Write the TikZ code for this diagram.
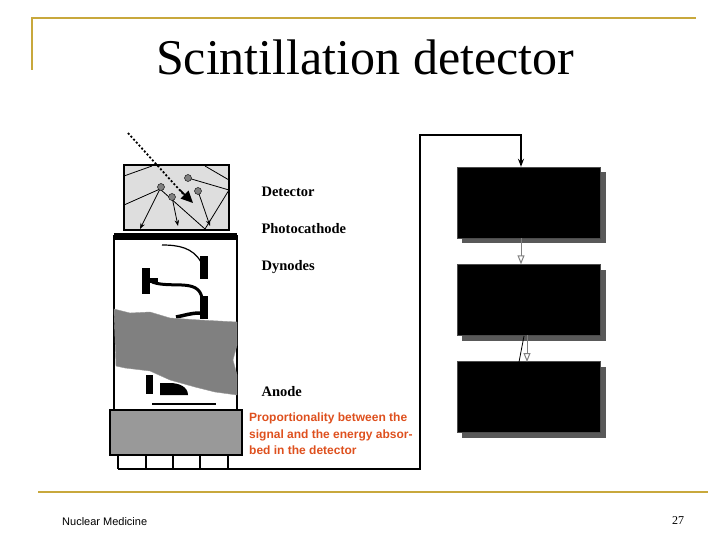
\documentclass[tikz,border=0pt]{standalone}
\usepackage{fontspec}
\newfontfamily\arialf{Liberation Sans}
\newfontfamily\timesf{Liberation Serif}
\usetikzlibrary{arrows.meta}
\definecolor{gold}{RGB}{200,168,60}
\definecolor{redt}{RGB}{222,80,30}
\tikzset{lab/.style={anchor=west,font=\timesf\bfseries\fontsize{14.5}{16}\selectfont},
 blk/.style={fill=black,draw=black!70},
 shd/.style={fill=black!65},
 ga/.style={draw=gray,line width=1pt,-{Triangle[open,length=9pt,width=7pt]}}}
\begin{document}
\begin{tikzpicture}[x=1pt,y=-1pt]
\useasboundingbox (0,0) rectangle (728,546);
\draw[gold,line width=2pt] (32,17) -- (32,70);
\draw[gold,line width=1.5pt] (31,18) -- (696,18);
\draw[gold,line width=1.5pt] (38,492) -- (708,492);
\node (title) at (365,57) {\timesf\fontsize{50}{54}\selectfont Scintillation detector};
\node[anchor=west,inner sep=0] (foot) at (62,522) {\arialf\fontsize{11}{12}\selectfont Nuclear Medicine};
\node (pg) at (678,521) {\timesf\fontsize{12}{13}\selectfont 27};
% detector
\node[draw,line width=1.6pt,fill=black!13,minimum width=105,minimum height=65,inner sep=0] (det) at (176.5,197.5) {};
\foreach \p/\q in {{124,176}/{152,166},{124,205}/{160,189},{160,189}/{205,229},{205,166}/{229,180},{229,190}/{205,229},{188,178}/{229,190}}
  \draw[line width=0.8pt] (\p) -- (\q);
\draw[line width=0.8pt,-{Stealth[length=6pt]}] (160,189) -- (140,229);
\draw[line width=0.8pt,-{Stealth[length=6pt]}] (172,197) -- (178,226);
\draw[line width=0.8pt,-{Stealth[length=6pt]}] (198,191) -- (210,226);
\foreach \c in {{161,187},{188,178},{172,197},{198,191}}
  \draw[fill=gray] (\c) circle (3.5);
\draw[line width=1.8pt,dash pattern=on 2pt off 2pt] (128,133) -- (185,196);
\draw[-{Triangle[length=12pt,width=11pt]},line width=1.5pt] (180,190) -- (193,203);
% tube
\draw[line width=2.5pt] (114,236) rectangle (237,410);
\fill (114,233) rectangle (237,240);
\fill (142,268) rectangle (150,294); \fill (142,278) rectangle (158,283);
\fill (200,256) rectangle (208,279); \fill (200,296) rectangle (208,319);
\draw[line width=1.2pt] (162,245) to[out=0,in=120] (201,262);
\draw[line width=3pt] (152,282) to[out=-20,in=100] (202,298);
\draw[line width=3.5pt] (176,317) to[out=10,in=180] (200,313);
\fill[gray,draw=black!40] (114,309) -- (130,313) -- (150,312) -- (170,318) -- (200,320) -- (237,322) -- (237,345) -- (233,360) -- (237,375) -- (237,395) -- (215,392) -- (195,387) -- (170,380) -- (150,371) -- (125,368) -- (116,366) -- cycle;
\fill (146,375) rectangle (153,394);
\fill (160,383) -- (170,383) to[out=0,in=90] (188,395) -- (160,395) -- cycle;
\draw[line width=1.8pt] (152,404) -- (216,404);
% base
\node[draw,line width=1.6pt,fill=black!40,minimum width=132,minimum height=45,inner sep=0] (base) at (176,432.5) {};
\foreach \x in {118,146,173,200,228} \draw[line width=1.8pt] (\x,455) -- (\x,469);
\coordinate (c1) at (118,469);
\coordinate (c2) at (420,469);
\coordinate (c3) at (420,135);
\coordinate (c4) at (521,135);
% boxes
\foreach \n/\y in {b1/202.5,b2/300,b3/397}{
  \fill[shd] (462,\y-30.5) rectangle (606,\y+40.5);
  \node[blk,minimum width=143,minimum height=71,inner sep=0] (\n) at (528.5,\y) {};}
\draw[line width=1.6pt,-{Stealth[length=8pt]}] (c1) -- (c2) -- (c3) -- (c4) -- (b1.north -| c4);
\draw[ga] (b1.south -| c4) -- (b2.north -| c4);
\draw[ga] (527,335) -- (527,362);
\draw[line width=0.8pt] (524,336) -- (519,362);
% labels
\node[lab] (l1) at (258,192) {Detector};
\node[lab] (l2) at (258,229) {Photocathode};
\node[lab] (l3) at (258,267) {Dynodes};
\node[lab] (l4) at (258,392) {Anode};
\node[anchor=north west,align=left,text=redt,inner sep=0,font=\arialf\bfseries\fontsize{12}{16.5}\selectfont] (rt) at (249,413) {Proportionality between the\\signal and the energy absor-\\bed in the detector};
\end{tikzpicture}
\end{document}
